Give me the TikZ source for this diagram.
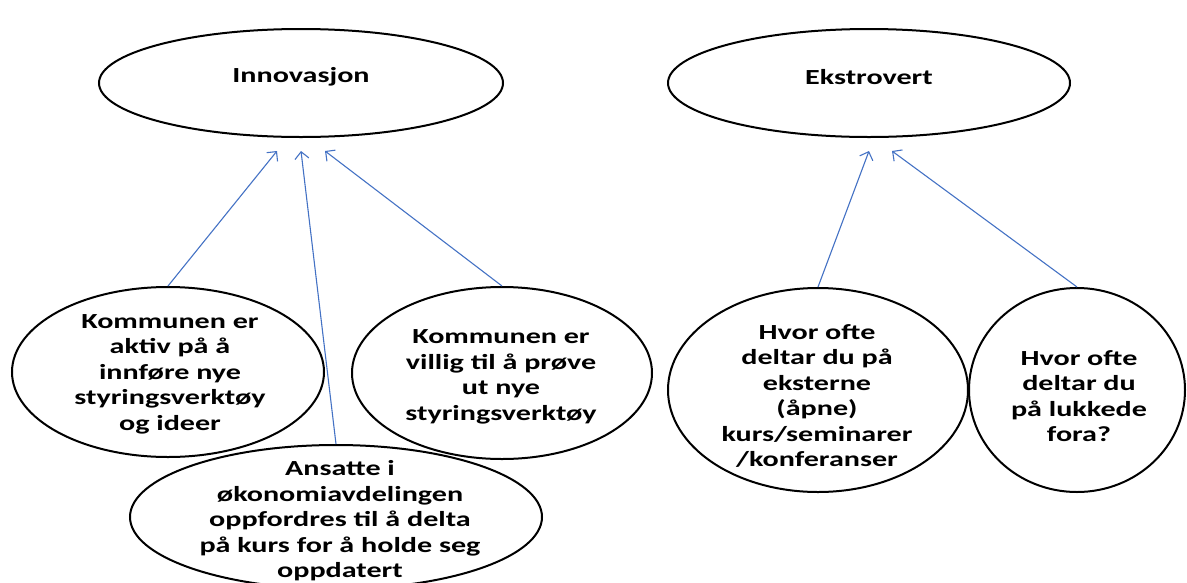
\documentclass[tikz,border=0pt]{standalone}
\usepackage{fontspec}
\setmainfont{Carlito}[FakeStretch=1.4]
\usetikzlibrary{shapes.geometric,arrows.meta}
\definecolor{linkblue}{RGB}{68,114,196}
\tikzset{
  oval/.style={ellipse, draw=black, line width=2pt, inner sep=0pt},
  caption/.style={align=center, inner sep=0pt,
    font=\bfseries\fontsize{21.5}{25.5}\selectfont},
  link/.style={draw=linkblue, line width=1.1pt,
    -{Straight Barb[length=7pt,width=14pt,line width=1.1pt]}}
}
\begin{document}
\begin{tikzpicture}[x=1pt,y=-1pt]
\useasboundingbox (0,0) rectangle (1187,582);

% top-level concepts
\node[oval, minimum width=404pt, minimum height=108pt] (innov) at (301,83) {};
\node[caption] (innovtxt) at (301,77) {Innovasjon};
\node[oval, minimum width=402pt, minimum height=108pt] (ekstr) at (869,83) {};
\node[caption] (ekstrtxt) at (869,77) {Ekstrovert};

% indicators for Innovasjon
\node[oval, minimum width=312pt, minimum height=170pt] (aktiv) at (168,372) {};
\node[caption] (aktivtxt) at (170,374) {Kommunen er\\aktiv på å\\innføre nye\\styringsverktøy\\og ideer};
\node[oval, minimum width=300pt, minimum height=172pt] (villig) at (502,373) {};
\node[caption] (villigtxt) at (501,377) {Kommunen er\\villig til å prøve\\ut nye\\styringsverktøy};
\node[oval, minimum width=412pt, minimum height=144pt] (ansatte) at (336,517) {};
\node[caption] (ansattetxt) at (340,521) {Ansatte i\\økonomiavdelingen\\oppfordres til å delta\\på kurs for å holde seg\\oppdatert};

% indicators for Ekstrovert
\node[oval, minimum width=300pt, minimum height=204pt] (eksterne) at (818,390) {};
\node[caption] (eksternetxt) at (817,396) {Hvor ofte\\deltar du på\\eksterne\\(åpne)\\kurs/seminarer\\/konferanser};
\node[oval, minimum width=216pt, minimum height=204pt] (lukkede) at (1077,390) {};
\node[caption] (lukkedetxt) at (1079,396) {Hvor ofte\\deltar du\\på lukkede\\fora?};

% arrow tips just below the concept ovals
\coordinate (i1) at (277,151);
\coordinate (i2) at (301,151);
\coordinate (i3) at (325,151);
\coordinate (e1) at (869,151);
\coordinate (e2) at (892,151);

\draw[link] (aktiv.north) -- (i1);
\draw[link] (ansatte.north) -- (i2);
\draw[link] (villig.north) -- (i3);
\draw[link] (eksterne.north) -- (e1);
\draw[link] (lukkede.north) -- (e2);
\end{tikzpicture}
\end{document}
